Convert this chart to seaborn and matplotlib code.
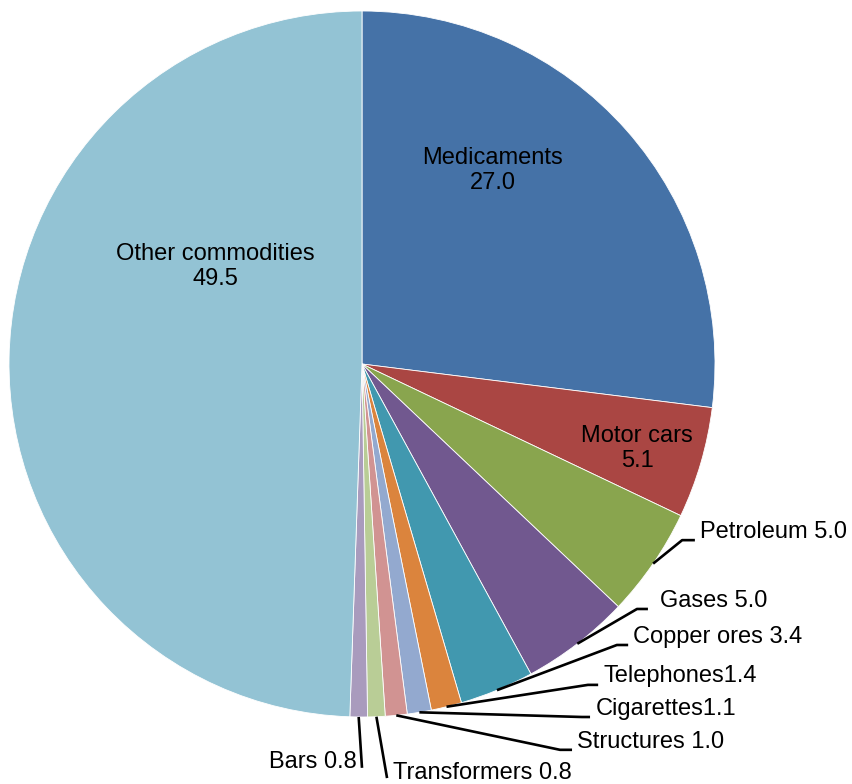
import numpy as np
import seaborn as sns
import matplotlib
matplotlib.use("Agg")
import matplotlib.pyplot as plt

# shares of exports, per cent
commodities = ["Medicaments", "Motor cars", "Petroleum", "Gases", "Copper ores",
               "Telephones", "Cigarettes", "Structures", "Transformers", "Bars",
               "Other commodities"]
shares = [27.0, 5.1, 5.0, 5.0, 3.4, 1.4, 1.1, 1.0, 0.8, 0.8, 49.5]
label_texts = ["Medicaments\n27.0", "Motor cars\n5.1", "Petroleum 5.0", "Gases 5.0",
               "Copper ores 3.4", "Telephones1.4", "Cigarettes1.1", "Structures 1.0",
               "Transformers 0.8", "Bars 0.8", "Other commodities\n49.5"]
colors = ["#4572A7", "#AA4643", "#89A54E", "#71588F", "#4198AF", "#DB843D",
          "#93A9CF", "#D19392", "#B9CD96", "#A99BBD", "#93C3D4"]

sns.set_style("white")
plt.rcParams["font.family"] = ["Liberation Sans", "DejaVu Sans"]

fig = plt.figure(figsize=(8.52, 7.84), dpi=100)
ax = fig.add_axes([0, 0, 1, 1])

wedges, _ = ax.pie(shares, colors=sns.color_palette(colors), startangle=90,
                   counterclock=False, radius=1,
                   wedgeprops=dict(edgecolor="white", linewidth=0.6))

# label placement (in units of the pie radius): inside labels are centred,
# outside labels get a leader line from the slice edge
inside = {0: (0.371, 0.549), 1: (0.779, -0.240), 10: (-0.416, 0.276)}
outside = {
    2: ((0.958, -0.476), (0.907, -0.499), (0.943, -0.499), "left"),
    3: ((0.844, -0.671), (0.779, -0.694), (0.810, -0.694), "left"),
    4: ((0.768, -0.773), (0.722, -0.796), (0.754, -0.796), "left"),
    5: ((0.683, -0.884), (0.640, -0.909), (0.669, -0.909), "left"),
    6: ((0.663, -0.977), (0.623, -1.000), (0.646, -1.000), "left"),
    7: ((0.609, -1.071), (0.561, -1.093), (0.595, -1.093), "left"),
    8: ((0.088, -1.159), (0.071, -1.173), (0.071, -1.173), "left"),
    9: ((-0.014, -1.127), (0.000, -1.144), (0.000, -1.144), "right"),
}

for i, w in enumerate(wedges):
    if i in inside:
        x, y = inside[i]
        ax.text(x, y, label_texts[i], ha="center", va="center", fontsize=17,
                color="black", linespacing=1.2)
    else:
        txt, elbow, end, ha = outside[i]
        mid = np.deg2rad((w.theta1 + w.theta2) / 2)
        sx, sy = np.cos(mid), np.sin(mid)
        ax.plot([sx, elbow[0], end[0]], [sy, elbow[1], end[1]], color="black",
                lw=1.9, solid_capstyle="butt")
        ax.text(txt[0], txt[1], label_texts[i], ha=ha, va="center", fontsize=17,
                color="black")

ax.set_xlim(-362 / 353, (852 - 362) / 353)
ax.set_ylim((364 - 784) / 353, 364 / 353)
ax.set_aspect("equal")
ax.axis("off")

fig.savefig("out.png", dpi=100, facecolor="white")
